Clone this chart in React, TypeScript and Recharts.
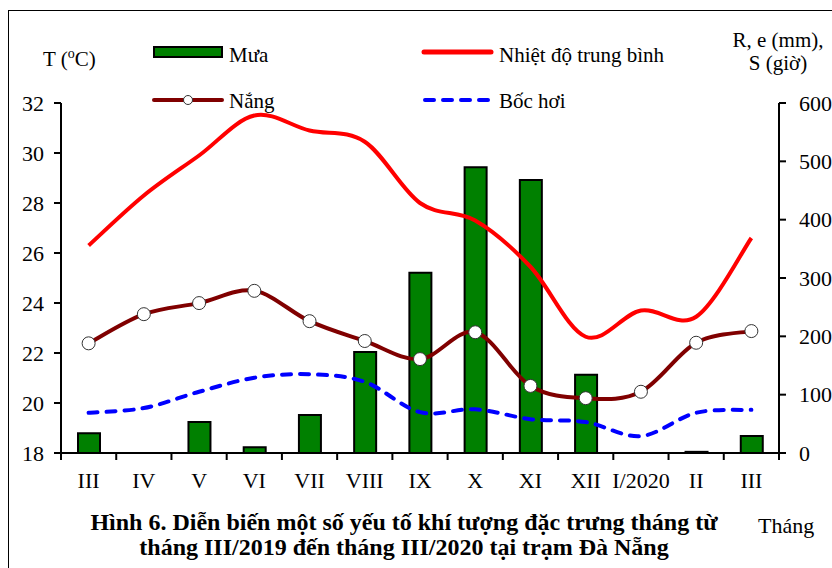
import { ComposedChart, Bar, Line, XAxis, YAxis } from "recharts";

const MONTHS = ["III", "IV", "V", "VI", "VII", "VIII", "IX", "X", "XI", "XII", "I/2020", "II", "III"];
const RAIN = [34, 0, 53, 10, 65, 173, 309, 490, 468, 134, 0, 2, 29];
const SUN = [188, 238, 257, 278, 226, 192, 161, 207, 115, 94, 105, 189, 209];
const EVAP = [69, 77, 105, 129, 135, 122, 70, 75, 58, 53, 29, 69, 74];
const TEMP = [26.3, 28.3, 29.9, 31.5, 30.9, 30.45, 28.0, 27.3, 25.45, 22.65, 23.7, 23.45, 26.6];
const LEFT_TICKS = [18, 20, 22, 24, 26, 28, 30, 32];
const RIGHT_TICKS = [0, 100, 200, 300, 400, 500, 600];

const FONT = '"Liberation Serif", "Times New Roman", serif';
const W = 832;
const H = 568;
const PLOT_W = 718;

const data = MONTHS.map((m, i) => ({
  month: m,
  rain: RAIN[i],
  sun: SUN[i],
  evap: EVAP[i],
  temp: TEMP[i],
}));

// excel-like smoothing (catmull-rom, control offset 1/6)
const smooth: any = (ctx: any) => {
  let pts: number[][] = [];
  return {
    areaStart() {},
    areaEnd() {},
    lineStart() {
      pts = [];
    },
    point(x: number, y: number) {
      pts.push([+x, +y]);
    },
    lineEnd() {
      if (!pts.length) return;
      ctx.moveTo(pts[0][0], pts[0][1]);
      for (let i = 0; i < pts.length - 1; i++) {
        const p0 = pts[i - 1] || pts[i];
        const p1 = pts[i];
        const p2 = pts[i + 1];
        const p3 = pts[i + 2] || p2;
        ctx.bezierCurveTo(
          p1[0] + (p2[0] - p0[0]) / 6,
          p1[1] + (p2[1] - p0[1]) / 6,
          p2[0] - (p3[0] - p1[0]) / 6,
          p2[1] - (p3[1] - p1[1]) / 6,
          p2[0],
          p2[1]
        );
      }
    },
  };
};

function MonthTick(props: any) {
  const { x, y, payload, index } = props;
  const half = PLOT_W / MONTHS.length / 2;
  return (
    <g>
      <line x1={x - half} x2={x - half} y1={y} y2={y + 7} stroke="#000" strokeWidth={2} />
      {index === MONTHS.length - 1 && (
        <line x1={x + half} x2={x + half} y1={y} y2={y + 7} stroke="#000" strokeWidth={2} />
      )}
      <text x={x} y={y + 35} textAnchor="middle" fontSize={22} fontFamily={FONT} fill="#000">
        {payload.value}
      </text>
    </g>
  );
}

const txt = { fontFamily: FONT, fill: "#000" };

export default function App() {
  return (
    <div style={{ position: "absolute", left: 0, top: 0, width: W, height: H, background: "#fff", overflow: "hidden" }}>
      <div
        style={{
          position: "absolute",
          left: 8,
          top: 10,
          width: 900,
          height: 700,
          borderLeft: "1.5px solid #000",
          borderTop: "1.5px solid #000",
        }}
      />
      <div style={{ position: "absolute", left: 0, top: 0 }}>
        <ComposedChart width={W} height={H} data={data} margin={{ top: 103, right: 3, bottom: 75, left: 11 }}>
          <XAxis
            dataKey="month"
            height={40}
            interval={0}
            tickSize={0}
            tickMargin={0}
            tick={(p: any) => <MonthTick {...p} />}
            axisLine={{ stroke: "#000", strokeWidth: 2 }}
            tickLine={false}
          />
          <YAxis
            yAxisId="left"
            width={50}
            domain={[18, 32]}
            ticks={LEFT_TICKS}
            allowDataOverflow
            tickSize={7}
            tickMargin={10}
            tick={{ fontSize: 22, fontFamily: FONT, fill: "#000" }}
            axisLine={{ stroke: "#000", strokeWidth: 2 }}
            tickLine={{ stroke: "#000", strokeWidth: 2 }}
          />
          <YAxis
            yAxisId="right"
            orientation="right"
            width={50}
            domain={[0, 600]}
            ticks={RIGHT_TICKS}
            tickSize={7}
            tickMargin={13}
            tick={{ fontSize: 22, fontFamily: FONT, fill: "#000", textAnchor: "start" }}
            axisLine={{ stroke: "#000", strokeWidth: 2 }}
            tickLine={{ stroke: "#000", strokeWidth: 2 }}
          />
          <Bar yAxisId="right" dataKey="rain" fill="#008000" stroke="#000" strokeWidth={2} barSize={22} isAnimationActive={false} />
          <Line
            yAxisId="right"
            dataKey="evap"
            type={smooth}
            stroke="#0000ff"
            strokeWidth={4}
            strokeDasharray="9 9"
            strokeLinecap="round"
            dot={false}
            activeDot={false}
            isAnimationActive={false}
          />
          <Line
            yAxisId="left"
            dataKey="temp"
            type={smooth}
            stroke="#ff0000"
            strokeWidth={4}
            dot={false}
            activeDot={false}
            isAnimationActive={false}
          />
          <Line
            yAxisId="right"
            dataKey="sun"
            type={smooth}
            stroke="#800000"
            strokeWidth={4}
            dot={{ r: 6.5, fill: "#fff", stroke: "#333", strokeWidth: 1 }}
            activeDot={false}
            isAnimationActive={false}
          />
        </ComposedChart>
      </div>
      <svg width={W} height={H} style={{ position: "absolute", left: 0, top: 0, pointerEvents: "none" }}>
        <text x={43} y={66} fontSize={21} {...txt}>
          T (<tspan fontSize={14} dy={-8}>o</tspan>
          <tspan dy={8}>C)</tspan>
        </text>
        <text x={778} y={47} fontSize={21} textAnchor="middle" {...txt}>R, e (mm),</text>
        <text x={778} y={70} fontSize={21} textAnchor="middle" {...txt}>S (giờ)</text>

        <rect x={154} y={47} width={68} height={10} fill="#008000" stroke="#000" strokeWidth={2} />
        <text x={229} y={62} fontSize={21} {...txt}>Mưa</text>
        <line x1={154} x2={222} y1={100} y2={100} stroke="#800000" strokeWidth={4} strokeLinecap="round" />
        <circle cx={188} cy={100} r={4.5} fill="#fff" stroke="#333" strokeWidth={1} />
        <text x={229} y={108} fontSize={21} {...txt}>Nắng</text>

        <line x1={424} x2={491} y1={52} y2={52} stroke="#ff0000" strokeWidth={5} strokeLinecap="round" />
        <text x={499} y={62} fontSize={21} {...txt}>Nhiệt độ trung bình</text>
        <line x1={425} x2={491} y1={100} y2={100} stroke="#0000ff" strokeWidth={4} strokeDasharray="9 9" strokeLinecap="round" />
        <text x={499} y={108} fontSize={21} {...txt}>Bốc hơi</text>

        <text x={404} y={530} fontSize={24} fontWeight="bold" textAnchor="middle" {...txt}>
          Hình 6. Diễn biến một số yếu tố khí tượng đặc trưng tháng từ
        </text>
        <text x={404} y={555} fontSize={24} fontWeight="bold" textAnchor="middle" {...txt}>
          tháng III/2019 đến tháng III/2020 tại trạm Đà Nẵng
        </text>
        <text x={758} y={533} fontSize={22} {...txt}>Tháng</text>
      </svg>
    </div>
  );
}
